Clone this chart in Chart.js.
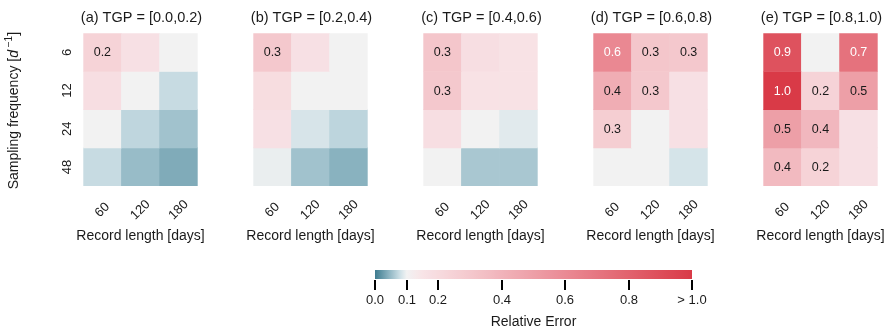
<!DOCTYPE html>
<html>
<head>
<meta charset="utf-8">
<script src="https://cdn.jsdelivr.net/npm/chart.js@4.4.1/dist/chart.umd.min.js"></script>
<style>
    html, body { margin: 0; padding: 0; background: #fff; }
    #wrap { position: relative; width: 892px; height: 331px; overflow: hidden; }
    #wrap canvas { position: absolute; left: 0; top: 0; }
</style>
</head>
<body>
<div id="wrap"></div>
<script>
// Ejes comunes
const recordLengths = ['60', '120', '180'];
const samplingFreqs = ['6', '12', '24', '48'];

const panelTitles = [
    '(a) TGP = [0.0,0.2)',
    '(b) TGP = [0.2,0.4)',
    '(c) TGP = [0.4,0.6)',
    '(d) TGP = [0.6,0.8)',
    '(e) TGP = [0.8,1.0)'
];

// Error relativo: filas = frecuencia de muestreo, columnas = duracion del registro
const errorA = [
    [0.24, 0.17, 0.10],
    [0.18, 0.10, 0.075],
    [0.10, 0.071, 0.055],
    [0.075, 0.05, 0.037]
];
const errorB = [
    [0.30, 0.17, 0.10],
    [0.19, 0.10, 0.10],
    [0.17, 0.084, 0.07],
    [0.095, 0.055, 0.042]
];
const errorC = [
    [0.31, 0.18, 0.16],
    [0.30, 0.16, 0.16],
    [0.18, 0.10, 0.09],
    [0.10, 0.059, 0.059]
];
const errorD = [
    [0.61, 0.31, 0.30],
    [0.43, 0.30, 0.17],
    [0.27, 0.10, 0.17],
    [0.10, 0.10, 0.083]
];
const errorE = [
    [0.88, 0.10, 0.72],
    [1.02, 0.24, 0.50],
    [0.50, 0.38, 0.17],
    [0.37, 0.24, 0.17]
];
const panelErrors = [errorA, errorB, errorC, errorD, errorE];

// Barra de color
const cbTicks = [0.0, 0.1, 0.2, 0.4, 0.6, 0.8, 1.0];
const cbTickLabels = ['0.0', '0.1', '0.2', '0.4', '0.6', '0.8', '> 1.0'];

const FONT = '"Liberation Sans", Arial, Helvetica, sans-serif';
const TEXT = '#1a1a1a';

// Paleta divergente centrada en 0.1 (azul -> gris claro -> rojo)
const cmapStops = [
    [0.0, [61, 123, 143]],
    [0.05, [152, 188, 200]],
    [0.08, [208, 225, 231]],
    [0.1, [242, 242, 242]],
    [0.15, [248, 228, 231]],
    [0.3, [244, 200, 205]],
    [0.6, [234, 138, 148]],
    [1.0, [217, 58, 71]]
];

function colorFor(v) {
    v = Math.max(0, Math.min(1, v));
    for (let i = 1; i < cmapStops.length; i++) {
        const [v0, c0] = cmapStops[i - 1];
        const [v1, c1] = cmapStops[i];
        if (v <= v1) {
            const t = (v - v0) / (v1 - v0);
            const c = c0.map((a, k) => Math.round(a + (c1[k] - a) * t));
            return `rgb(${c[0]}, ${c[1]}, ${c[2]})`;
        }
    }
    const c = cmapStops[cmapStops.length - 1][1];
    return `rgb(${c[0]}, ${c[1]}, ${c[2]})`;
}

const wrap = document.getElementById('wrap');
function newCanvas() {
    const c = document.createElement('canvas');
    c.width = 892;
    c.height = 331;
    wrap.appendChild(c);
    return c.getContext('2d');
}

// Geometria de los paneles
const PANEL_LEFT = 83.3;
const PANEL_STEP = 170;
const PANEL_W = 114.4;
const PANEL_TOP = 33.3;
const PANEL_BOTTOM = 186;

// Textos de cada panel: anotaciones, titulo, ticks y etiquetas de ejes
const panelText = {
    id: 'panelText',
    afterDatasetsDraw(chart, args, opts) {
        const ctx = chart.ctx;
        const xs = chart.scales.x;
        const ys = chart.scales.y;
        const area = chart.chartArea;
        const cx = (area.left + area.right) / 2;
        ctx.save();
        ctx.textAlign = 'center';
        ctx.textBaseline = 'middle';

        // Anotaciones de celdas
        ctx.font = `12.5px ${FONT}`;
        opts.values.forEach((row, r) => {
            row.forEach((v, c) => {
                if (v < 0.195) return;
                ctx.fillStyle = v >= 0.55 ? '#ffffff' : TEXT;
                const label = Math.min(v, 1).toFixed(1);
                ctx.fillText(label, xs.getPixelForValue(c), ys.getPixelForValue(r + 0.5) + 0.5);
            });
        });

        ctx.fillStyle = TEXT;
        // Titulo
        ctx.font = `14.5px ${FONT}`;
        ctx.fillText(opts.title, cx + 1, 17.5);

        // Ticks del eje x (45 grados, centrados)
        ctx.font = `13px ${FONT}`;
        recordLengths.forEach((lab, c) => {
            ctx.save();
            ctx.translate(xs.getPixelForValue(c), 210);
            ctx.rotate(-Math.PI / 4);
            ctx.fillText(lab, 0, 0);
            ctx.restore();
        });

        // Etiqueta del eje x
        ctx.font = `14px ${FONT}`;
        ctx.fillText('Record length [days]', cx, 236.5);

        if (opts.showY) {
            // Ticks del eje y (verticales)
            ctx.font = `13px ${FONT}`;
            samplingFreqs.forEach((lab, r) => {
                ctx.save();
                ctx.translate(67, ys.getPixelForValue(r + 0.5));
                ctx.rotate(-Math.PI / 2);
                ctx.fillText(lab, 0, 0);
                ctx.restore();
            });

            // Etiqueta del eje y con superindice
            ctx.save();
            ctx.translate(14, (area.top + area.bottom) / 2 + 1);
            ctx.rotate(-Math.PI / 2);
            ctx.textAlign = 'left';
            const parts = [
                { t: 'Sampling frequency [', f: `14px ${FONT}`, dy: 0 },
                { t: 'd', f: `italic 14px ${FONT}`, dy: 0 },
                { t: ' \u22121', f: `10px ${FONT}`, dy: -5 },
                { t: ']', f: `14px ${FONT}`, dy: 0 }
            ];
            let total = 0;
            parts.forEach(p => { ctx.font = p.f; p.w = ctx.measureText(p.t).width; total += p.w; });
            let x = -total / 2;
            parts.forEach(p => {
                ctx.font = p.f;
                ctx.fillText(p.t, x, p.dy);
                x += p.w;
            });
            ctx.restore();
        }
        ctx.restore();
    }
};

panelErrors.forEach((values, i) => {
    const left = PANEL_LEFT + PANEL_STEP * i;
    new Chart(newCanvas(), {
        type: 'bar',
        data: {
            labels: recordLengths,
            datasets: samplingFreqs.map((freq, r) => ({
                label: freq,
                data: recordLengths.map(() => [r, r + 1]),
                backgroundColor: values[r].map(colorFor),
                borderWidth: 0,
                categoryPercentage: 1,
                barPercentage: 1,
                grouped: false
            }))
        },
        options: {
            responsive: false,
            devicePixelRatio: 1,
            animation: false,
            layout: {
                padding: {
                    left: left,
                    right: 892 - left - PANEL_W,
                    top: PANEL_TOP,
                    bottom: 331 - PANEL_BOTTOM
                }
            },
            scales: {
                x: { type: 'category', offset: true, display: false },
                y: { type: 'linear', min: 0, max: 4, reverse: true, display: false }
            },
            plugins: {
                legend: { display: false },
                tooltip: { enabled: false },
                panelText: { values: values, title: panelTitles[i], showY: i === 0 }
            }
        },
        plugins: [panelText]
    });
});

// Barra de color con sus marcas
const colorbarText = {
    id: 'colorbarText',
    afterDatasetsDraw(chart) {
        const ctx = chart.ctx;
        const xs = chart.scales.x;
        const area = chart.chartArea;
        ctx.save();
        ctx.strokeStyle = '#000';
        ctx.lineWidth = 2;
        ctx.fillStyle = TEXT;
        ctx.font = `13px ${FONT}`;
        ctx.textAlign = 'center';
        ctx.textBaseline = 'middle';
        cbTicks.forEach((v, k) => {
            const x = Math.round(xs.getPixelForValue(v));
            ctx.beginPath();
            ctx.moveTo(x, area.bottom + 1);
            ctx.lineTo(x, area.bottom + 11);
            ctx.stroke();
            ctx.fillText(cbTickLabels[k], x, 300.5);
        });
        ctx.font = `14px ${FONT}`;
        ctx.fillText('Relative Error', (area.left + area.right) / 2, 322);
        ctx.restore();
    }
};

new Chart(newCanvas(), {
    type: 'bar',
    data: {
        labels: ['Relative Error'],
        datasets: [{
            data: [[0, 1]],
            borderWidth: 0,
            categoryPercentage: 1,
            barPercentage: 1,
            backgroundColor(context) {
                const chart = context.chart;
                if (!chart.chartArea) return colorFor(0.1);
                const xs = chart.scales.x;
                const x0 = xs.getPixelForValue(0);
                const x1 = xs.getPixelForValue(1);
                const g = chart.ctx.createLinearGradient(x0, 0, x1, 0);
                for (let s = 0; s <= 100; s++) {
                    g.addColorStop(s / 100, colorFor(s / 100));
                }
                return g;
            }
        }]
    },
    options: {
        indexAxis: 'y',
        responsive: false,
        devicePixelRatio: 1,
        animation: false,
        layout: { padding: { left: 375, right: 892 - 692, top: 270, bottom: 331 - 279 } },
        scales: {
            x: { type: 'linear', min: 0, max: 1, display: false },
            y: { type: 'category', display: false }
        },
        plugins: { legend: { display: false }, tooltip: { enabled: false } }
    },
    plugins: [colorbarText]
});
</script>
</body>
</html>
